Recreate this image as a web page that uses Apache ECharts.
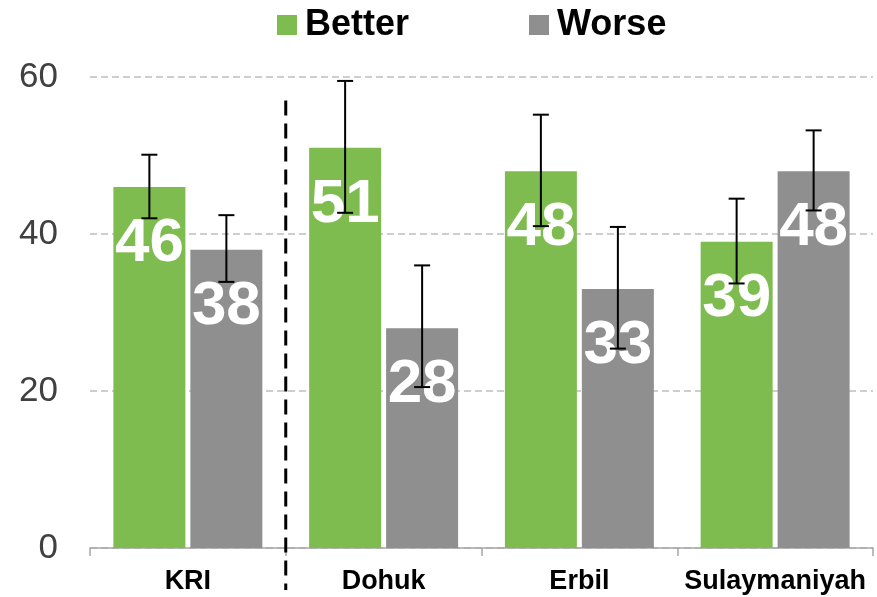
<!DOCTYPE html>
<html>
<head>
<meta charset="utf-8">
<script src="https://cdn.jsdelivr.net/npm/echarts@6/dist/echarts.min.js"></script>
<style>
  html, body { margin: 0; padding: 0; background: #fff; }
  #main { width: 877px; height: 597px; }
</style>
</head>
<body>
<div id="main"></div>
<script>
// data
var categories = ['KRI', 'Dohuk', 'Erbil', 'Sulaymaniyah'];
var betterValues = [46, 51, 48, 39];
var worseValues = [38, 28, 33, 48];
// error bar ends (low, high)
var betterLow = [42.0, 42.7, 41.0, 33.7];
var betterHigh = [50.1, 59.5, 55.2, 44.5];
var worseLow = [33.9, 20.5, 25.4, 43.0];
var worseHigh = [42.4, 36.0, 40.9, 53.2];

var green = '#7fbc50';
var gray = '#8f8f8f';
var barW = 72;
var gapPx = 5;
var fontFam = '"Liberation Sans", Arial, sans-serif';

var chart = echarts.init(document.getElementById('main'));

function errData(lo, hi) {
  var out = [];
  for (var i = 0; i < categories.length; i++) {
    out.push([i, lo[i], hi[i]]);
  }
  return out;
}

// draws one error bar, shifted to sit on its bar
function errorBar(offset) {
  return function (params, api) {
    var i = api.value(0);
    var lo = api.coord([i, api.value(1)]);
    var hi = api.coord([i, api.value(2)]);
    var x = lo[0] + offset;
    var cap = 8;
    var st = { stroke: '#000', lineWidth: 2 };
    return {
      type: 'group',
      children: [
        { type: 'line', shape: { x1: x, y1: lo[1], x2: x, y2: hi[1] }, style: st },
        { type: 'line', shape: { x1: x - cap, y1: hi[1], x2: x + cap, y2: hi[1] }, style: st },
        { type: 'line', shape: { x1: x - cap, y1: lo[1], x2: x + cap, y2: lo[1] }, style: st }
      ]
    };
  };
}

var barLabel = {
  show: true,
  position: ['50%', 57],
  align: 'center',
  verticalAlign: 'middle',
  color: '#fff',
  fontSize: 62,
  fontWeight: 'bold',
  fontFamily: fontFam
};

var option = {
  animation: false,
  backgroundColor: '#fff',
  grid: { left: 90, right: 4, top: 77, bottom: 49 },
  legend: {
    data: ['Better', 'Worse'],
    left: 277,
    top: 7,
    padding: 0,
    icon: 'rect',
    itemWidth: 20,
    itemHeight: 20,
    itemGap: 120,
    textStyle: { fontSize: 36, fontWeight: 'bold', color: '#000', fontFamily: fontFam, padding: [2, 0, 0, 3] }
  },
  xAxis: {
    type: 'category',
    data: categories,
    axisLine: { lineStyle: { color: '#a6a6a6', width: 1.5 } },
    axisTick: { show: true, interval: 0, length: 8, lineStyle: { color: '#a6a6a6', width: 1.5 } },
    axisLabel: { interval: 0, fontSize: 27, fontWeight: 'bold', color: '#000', margin: 20, fontFamily: fontFam }
  },
  yAxis: {
    type: 'value',
    min: 0,
    max: 60,
    interval: 20,
    axisLine: { show: false },
    axisTick: { show: false },
    axisLabel: { fontSize: 35, color: '#404040', margin: 32, fontFamily: fontFam },
    splitLine: { lineStyle: { color: '#bfbfbf', type: [7, 4], width: 1.5 } }
  },
  series: [
    {
      name: 'Better',
      type: 'bar',
      data: betterValues,
      barWidth: barW,
      barGap: (gapPx / barW * 100).toFixed(1) + '%',
      itemStyle: { color: green },
      label: barLabel
    },
    {
      name: 'Worse',
      type: 'bar',
      data: worseValues,
      barWidth: barW,
      itemStyle: { color: gray },
      label: barLabel
    },
    {
      name: 'BetterErr',
      type: 'custom',
      z: 10,
      renderItem: errorBar(-(barW + gapPx) / 2),
      data: errData(betterLow, betterHigh),
      encode: { x: 0, y: [1, 2] }
    },
    {
      name: 'WorseErr',
      type: 'custom',
      z: 10,
      renderItem: errorBar((barW + gapPx) / 2),
      data: errData(worseLow, worseHigh),
      encode: { x: 0, y: [1, 2] }
    }
  ]
};

chart.setOption(option);

// dashed divider between KRI and the governorates
var xa = chart.convertToPixel({ xAxisIndex: 0 }, categories[0]);
var xb = chart.convertToPixel({ xAxisIndex: 0 }, categories[1]);
var yTop = chart.convertToPixel({ yAxisIndex: 0 }, 57);
var yZero = chart.convertToPixel({ yAxisIndex: 0 }, 0);
var xd = (xa + xb) / 2;
chart.setOption({
  graphic: [{
    type: 'line',
    z: 20,
    shape: { x1: xd, y1: yTop, x2: xd, y2: yZero + 42 },
    style: { stroke: '#000', lineWidth: 3, lineDash: [15, 8] }
  }]
});
</script>
</body>
</html>
